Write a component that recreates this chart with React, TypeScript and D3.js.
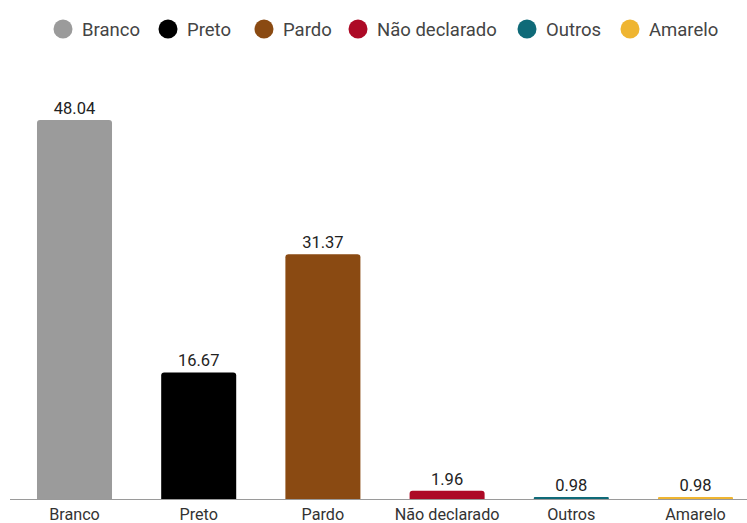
import React from "react";
import * as d3 from "d3";

const categories = ["Branco", "Preto", "Pardo", "Não declarado", "Outros", "Amarelo"];
const values = [48.04, 16.67, 31.37, 1.96, 0.98, 0.98];
const colors = ["#9b9b9b", "#000000", "#8a4a12", "#ad0a26", "#0f6a78", "#efb531"];
const yDomain = [0.95, 48.04];

const W = 747;
const H = 523;
const baseY = 499;
const topY = 120;

export default function App() {
  const x = d3
    .scaleBand<string>()
    .domain(categories)
    .range([12.4, 757.6])
    .paddingInner(0.396)
    .paddingOuter(0.198);
  const y = d3.scaleLinear().domain(yDomain).range([baseY, topY]);
  const bw = x.bandwidth();

  const legendX = [63, 168, 264, 358, 527, 630];

  const barPath = (x0: number, y0: number, w: number, h: number) => {
    const r = Math.min(3, h / 2, w / 2);
    return `M${x0},${y0 + h}V${y0 + r}Q${x0},${y0} ${x0 + r},${y0}H${x0 + w - r}Q${x0 + w},${y0} ${x0 + w},${y0 + r}V${y0 + h}Z`;
  };

  return (
    <svg
      width={W}
      height={H}
      style={{ position: "absolute", left: 0, top: 0, background: "#fff" }}
      fontFamily="Roboto, sans-serif"
    >
      <rect width={W} height={H} fill="#fff" />
      {categories.map((c, i) => (
        <g key={"lg" + c}>
          <circle cx={legendX[i]} cy={29} r={9.5} fill={colors[i]} />
          <text x={legendX[i] + 19} y={36} fontSize={18.5} fill="#444">
            {c}
          </text>
        </g>
      ))}
      {categories.map((c, i) => {
        const v = values[i];
        const x0 = x(c)!;
        let yt = y(v);
        let h = baseY - yt;
        if (h < 2) {
          h = 2;
          yt = baseY - 2;
        }
        return (
          <g key={"b" + c}>
            <path d={barPath(x0, yt, bw, h)} fill={colors[i]} />
            <text
              x={x0 + bw / 2}
              y={yt - 6}
              textAnchor="middle"
              fontSize={16.5}
              fill="#222"
            >
              {v.toFixed(2)}
            </text>
            <text
              x={x0 + bw / 2}
              y={520}
              textAnchor="middle"
              fontSize={16.2}
              fill="#333"
            >
              {c}
            </text>
          </g>
        );
      })}
      <line x1={10} x2={W} y1={baseY + 0.5} y2={baseY + 0.5} stroke="#9a9a9a" strokeWidth={1} />
    </svg>
  );
}
